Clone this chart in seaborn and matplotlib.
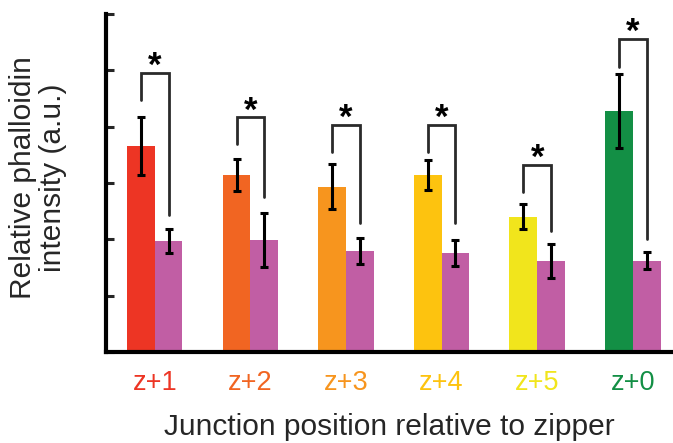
import matplotlib
matplotlib.use("Agg")
import matplotlib.pyplot as plt
import seaborn as sns
import pandas as pd

# Junction positions and their label colours
positions = ["z+1", "z+2", "z+3", "z+4", "z+5", "z+0"]
position_colors = ["#ED3524", "#F16522", "#F7951E", "#FDC30F", "#F1E51C", "#138F45"]
control_color = "#C15EA4"

# Mean relative phalloidin intensity and error for each pair of bars
junction_mean = [3.66, 3.14, 2.93, 3.14, 2.40, 4.28]
junction_err = [0.52, 0.28, 0.40, 0.26, 0.22, 0.66]
control_mean = [1.97, 1.99, 1.79, 1.76, 1.62, 1.62]
control_err = [0.21, 0.48, 0.23, 0.23, 0.30, 0.15]

# Significance brackets: top of bracket, bottom of left leg, bottom of right leg
bracket_top = [4.96, 4.17, 4.03, 4.03, 3.32, 5.56]
bracket_left = [4.48, 3.69, 3.55, 3.55, 2.84, 5.06]
bracket_right = [2.43, 2.75, 2.29, 2.29, 2.15, 2.01]

df = pd.DataFrame({
    "position": positions * 2,
    "group": ["junction"] * len(positions) + ["control"] * len(positions),
    "value": junction_mean + control_mean,
})

sns.set_style("white")
plt.rcParams["font.family"] = ["Liberation Sans", "DejaVu Sans"]

fig = plt.figure(figsize=(6.73, 4.43), dpi=100)
ax = fig.add_axes([106 / 673, 1 - 352 / 443, 567 / 673, 338 / 443])

sns.barplot(data=df, x="position", y="value", hue="group",
            palette={"junction": "#888888", "control": control_color},
            width=0.58, errorbar=None, legend=False, ax=ax,
            saturation=1, linewidth=0)

n = len(positions)
junction_bars = ax.patches[:n]
control_bars = ax.patches[n:2 * n]
for bar, c in zip(junction_bars, position_colors):
    bar.set_facecolor(c)

jx = [b.get_x() + b.get_width() / 2 for b in junction_bars]
cx = [b.get_x() + b.get_width() / 2 for b in control_bars]

ax.errorbar(jx, junction_mean, yerr=junction_err, fmt="none", ecolor="black",
            elinewidth=2.2, capsize=3, capthick=2.2, zorder=5)
ax.errorbar(cx, control_mean, yerr=control_err, fmt="none", ecolor="black",
            elinewidth=2.2, capsize=3, capthick=2.2, zorder=5)

for x0, x1, top, l, r in zip(jx, cx, bracket_top, bracket_left, bracket_right):
    ax.plot([x0, x0, x1, x1], [l, top, top, r], color="#2a2a2a", lw=2.0,
            solid_joinstyle="miter", zorder=4)
    ax.text((x0 + x1) / 2, top - 0.06, "*", ha="center", va="baseline",
            fontsize=25, fontweight="bold", color="black")

ax.set_ylim(0, 6)
ax.set_xlim(-0.51, 5.42)
ax.set_yticks(range(7))
ax.set_yticklabels([])
ax.tick_params(axis="y", direction="in", length=6, width=2.2, left=True)
ax.tick_params(axis="x", length=0, pad=13, labelsize=19.5)
for lbl, c in zip(ax.get_xticklabels(), position_colors):
    lbl.set_color(c)

sns.despine(ax=ax, top=True, right=True)
for side in ("left", "bottom"):
    ax.spines[side].set_linewidth(3)
    ax.spines[side].set_color("black")

ax.set_xlabel("Junction position relative to zipper", fontsize=21.5, labelpad=12)
ax.set_ylabel("Relative phalloidin\nintensity (a.u.)", fontsize=21.5,
              linespacing=1.1)
ax.yaxis.set_label_coords(-0.068, 0.515)

fig.savefig("out.png", dpi=100)
